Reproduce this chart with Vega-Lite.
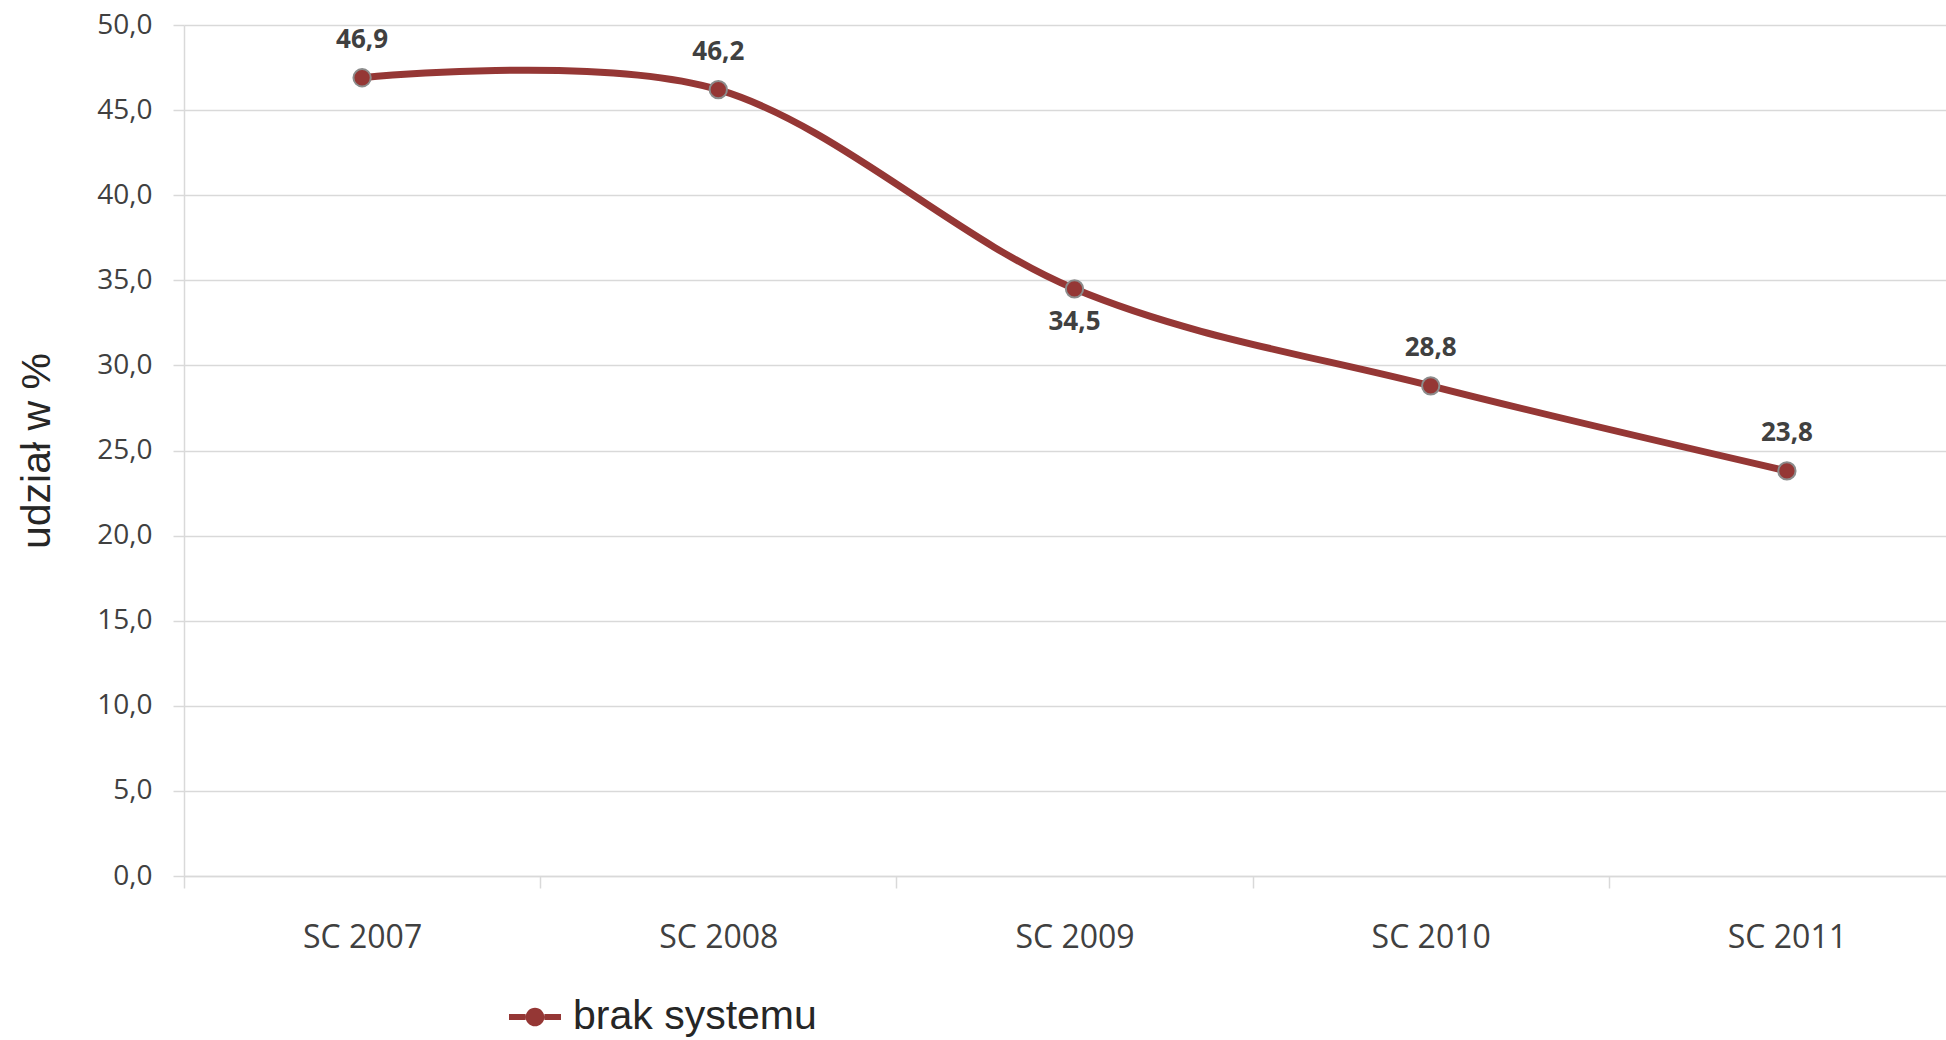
{
  "$schema": "https://vega.github.io/schema/vega-lite/v6.json",
  "autosize": {"type": "none"},
  "width": 1762,
  "height": 851,
  "padding": {"left": 184, "top": 25, "right": 0, "bottom": 164},
  "background": "white",
  "config": {
    "locale": {"number": {"decimal": ",", "thousands": " ", "grouping": [3], "currency": ["", " zł"]}},
    "view": {"stroke": null}
  },
  "data": {
    "values": [
      {"edycja": "SC 2007", "udzial": 46.9, "seria": "brak systemu", "pozycja": "nad"},
      {"edycja": "SC 2008", "udzial": 46.2, "seria": "brak systemu", "pozycja": "nad"},
      {"edycja": "SC 2009", "udzial": 34.5, "seria": "brak systemu", "pozycja": "pod"},
      {"edycja": "SC 2010", "udzial": 28.8, "seria": "brak systemu", "pozycja": "nad"},
      {"edycja": "SC 2011", "udzial": 23.8, "seria": "brak systemu", "pozycja": "nad"}
    ]
  },
  "encoding": {
    "x": {
      "field": "edycja", "type": "nominal", "sort": null, "bandPosition": 0.5,
      "scale": {"type": "band", "range": [0, 1781], "paddingInner": 0, "paddingOuter": 0},
      "axis": {
        "title": null, "labelAngle": 0, "tickBand": "extent", "tickSize": 12, "tickColor": "#d9d9d9", "tickWidth": 1.5,
        "domainColor": "#d9d9d9", "domainWidth": 1.5, "grid": false,
        "labelFont": "Open Sans", "labelFontSize": 32, "labelColor": "#404040", "labelPadding": 34
      }
    },
    "y": {
      "field": "udzial", "type": "quantitative",
      "scale": {"domain": [0, 50]},
      "axis": {
        "values": [0, 5, 10, 15, 20, 25, 30, 35, 40, 45, 50], "format": ".1f",
        "title": "udział w %", "titleFont": "Liberation Sans", "titleFontSize": 41, "titleFontWeight": "normal", "titleColor": "#262626", "titlePadding": 38,
        "labelFont": "Open Sans", "labelFontSize": 28, "labelColor": "#404040", "labelPadding": 21,
        "tickSize": 11, "tickColor": "#d9d9d9", "tickWidth": 1.5,
        "domainColor": "#d9d9d9", "domainWidth": 1.5,
        "grid": true, "gridColor": "#d9d9d9", "gridWidth": 1.5
      }
    }
  },
  "layer": [
    {
      "mark": {"type": "line", "interpolate": "cardinal", "strokeWidth": 7},
      "encoding": {
        "color": {
          "field": "seria", "type": "nominal",
          "scale": {"range": ["#953735"]},
          "legend": {
            "title": null, "orient": "none", "legendX": 325, "legendY": 966, "padding": 0, "labelLimit": 0,
            "labelFont": "Liberation Sans", "labelFontSize": 41, "labelColor": "#262626", "labelOffset": 12,
            "symbolType": "M-1,-0.12H-0.36V0.12H-1Z M0.36,-0.12H1V0.12H0.36Z M0.36,0A0.36,0.36 0 1,1 -0.36,0A0.36,0.36 0 1,1 0.36,0Z",
            "symbolSize": 2704, "symbolFillColor": "#953735", "symbolStrokeColor": "#953735", "symbolStrokeWidth": 0
          }
        }
      }
    },
    {
      "mark": {"type": "point", "filled": true, "size": 300, "stroke": "#8c8c8c", "strokeWidth": 2, "opacity": 1},
      "encoding": {
        "color": {"field": "seria", "type": "nominal", "scale": {"range": ["#953735"]}}
      }
    },
    {
      "transform": [{"filter": "datum.pozycja === 'nad'"}],
      "mark": {"type": "text", "font": "Open Sans", "fontSize": 26, "fontWeight": "bold", "color": "#404040", "dy": -38, "baseline": "middle"},
      "encoding": {"text": {"field": "udzial", "type": "quantitative", "format": ".1f"}}
    },
    {
      "transform": [{"filter": "datum.pozycja === 'pod'"}],
      "mark": {"type": "text", "font": "Open Sans", "fontSize": 26, "fontWeight": "bold", "color": "#404040", "dy": 33, "baseline": "middle"},
      "encoding": {"text": {"field": "udzial", "type": "quantitative", "format": ".1f"}}
    }
  ]
}
